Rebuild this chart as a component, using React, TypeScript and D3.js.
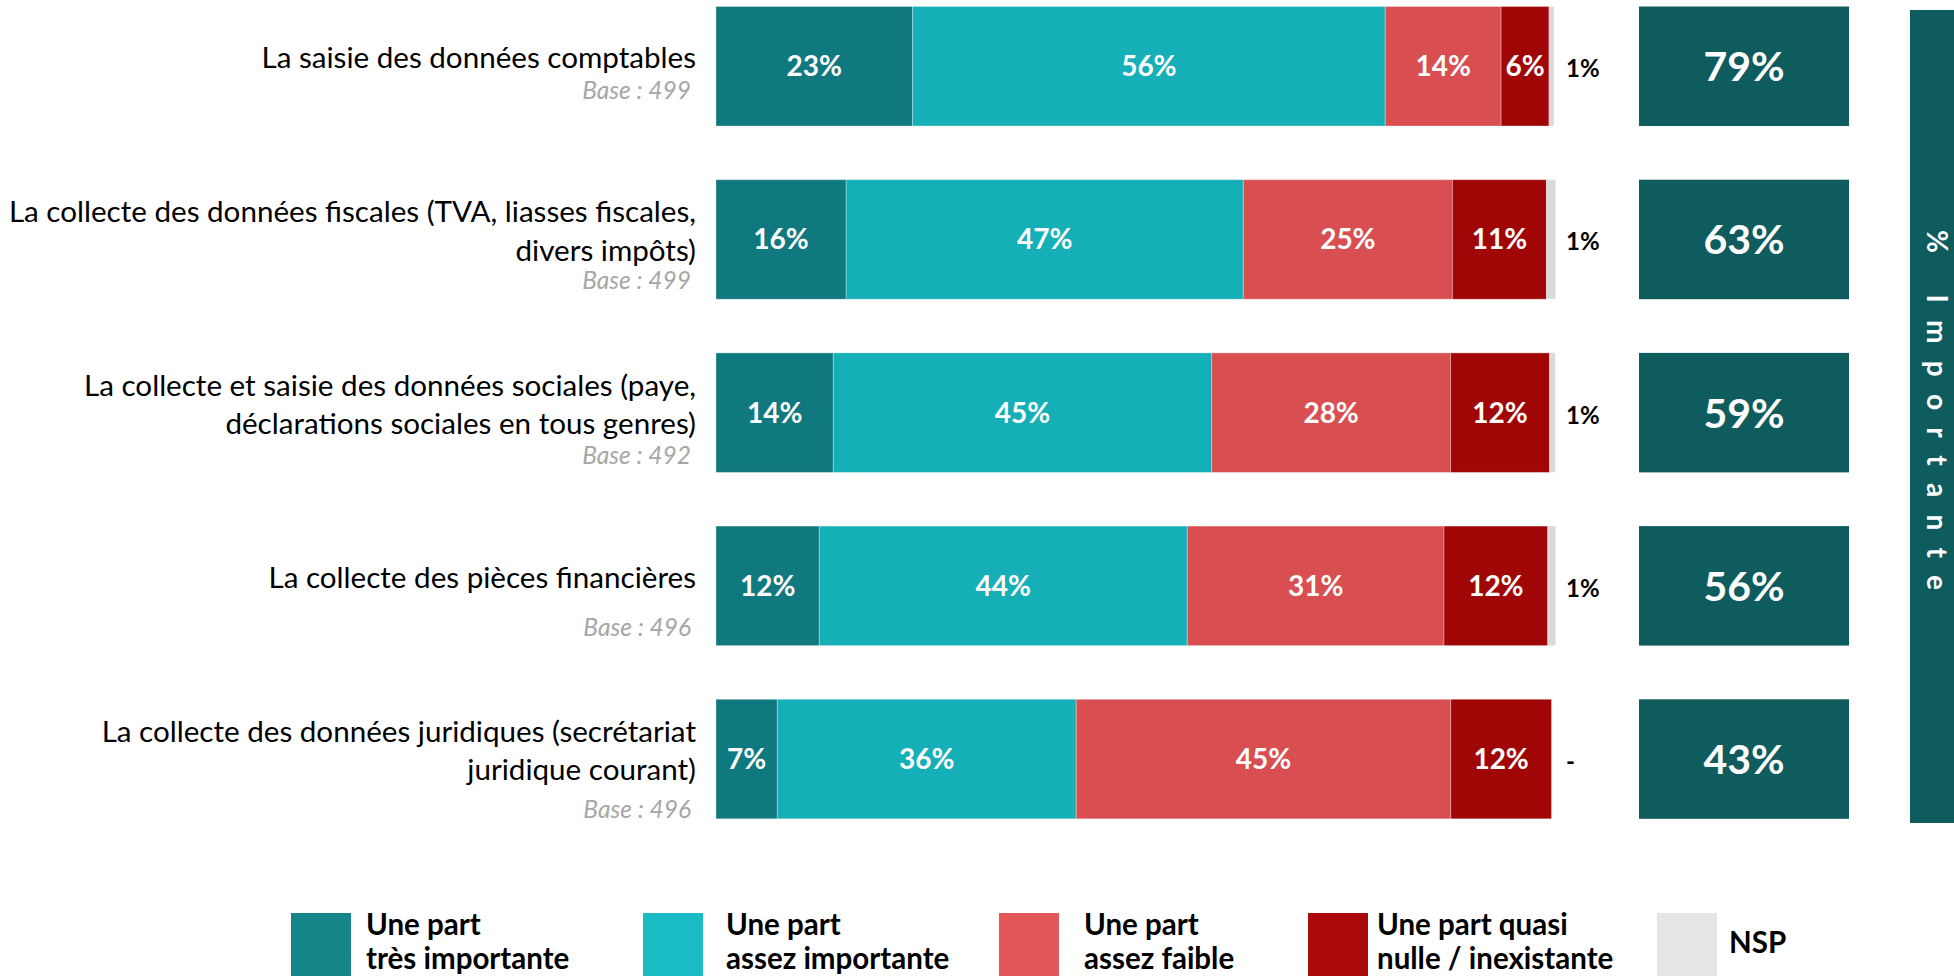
import React from "react";
import * as d3 from "d3";

// ---------- DATA ----------
const categories: string[][] = [
  ["La saisie des données comptables"],
  ["La collecte des données fiscales (TVA, liasses fiscales,", "divers impôts)"],
  ["La collecte et saisie des données sociales (paye,", "déclarations sociales en tous genres)"],
  ["La collecte des pièces financières"],
  ["La collecte des données juridiques (secrétariat", "juridique courant)"],
];
const bases = [499, 499, 492, 496, 496];

const seriesKeys = ["tres", "assez", "faible", "nulle", "nsp"];
const legendLabels: string[][] = [
  ["Une part", "très importante"],
  ["Une part", "assez importante"],
  ["Une part", "assez faible"],
  ["Une part quasi", "nulle / inexistante"],
  ["NSP"],
];
const tresImportante = [23.4, 15.5, 13.97, 12.3, 7.3];
const assezImportante = [56.3, 47.3, 45.06, 43.83, 35.6];
const assezFaible = [13.8, 24.9, 28.45, 30.57, 44.6];
const quasiNulle = [5.7, 11.2, 11.79, 12.35, 12.0];
const nspValues = [0.6, 1.1, 0.68, 0.95, 0];
const importante = [79, 63, 59, 56, 43];
const sideTitle = "% Importante";

// ---------- STYLE / LAYOUT ----------
const W = 1954;
const H = 976;
const barColors = ["#10797F", "#14AFB7", "#D84E51", "#A00606", "#DADADA"];
const legendColors = ["#168589", "#19BCC4", "#E35759", "#AC0A0A", "#E5E5E5"];
const boxColor = "#0E5C5E";
const FONT = "Lato, 'Open Sans', 'Noto Sans', sans-serif";
const baseGap = [31, 28, 30, 48, 38];
const legendSquareX = [291, 643, 999, 1308, 1657];
const legendTextX = [366, 726, 1084, 1377, 1729];

export default function App() {
  const table = categories.map((_, i) => ({
    tres: tresImportante[i],
    assez: assezImportante[i],
    faible: assezFaible[i],
    nulle: quasiNulle[i],
    nsp: nspValues[i],
  }));
  const stacked = d3.stack<any>().keys(seriesKeys)(table);

  const x = d3.scaleLinear().domain([0, 100]).range([716, 1555.7]);
  const y = d3
    .scaleBand<number>()
    .domain(d3.range(categories.length))
    .range([-20.35, 845.65])
    .paddingInner(0.31)
    .paddingOuter(0.155);
  const bw = y.bandwidth();

  const boxX0 = 1639;
  const boxX1 = 1849;

  return (
    <svg
      width={W}
      height={H}
      style={{ position: "absolute", left: 0, top: 0, display: "block", background: "#fff" }}
      fontFamily={FONT}
    >
      {/* category labels */}
      {categories.map((lines, i) => {
        const c = (y(i) as number) + bw / 2;
        const first = c + 2 - (lines.length - 1) * 19.15;
        const last = first + (lines.length - 1) * 38.3;
        return (
          <g key={"lab" + i}>
            {lines.map((ln, k) => (
              <text
                key={k}
                x={696}
                y={first + k * 38.3}
                textAnchor="end"
                fontSize={29.6}
                fill="#000"
              >
                {ln}
              </text>
            ))}
            <text
              x={691}
              y={last + baseGap[i]}
              textAnchor="end"
              fontSize={24.5}
              fontStyle="italic"
              fill="#A6A6A6"
            >
              {`Base : ${bases[i]}`}
            </text>
          </g>
        );
      })}

      {/* stacked bars */}
      {stacked.map((s, si) => (
        <g key={"s" + si}>
          {s.map((d, i) => {
            const x0 = x(d[0]);
            const x1 = x(d[1]);
            if (x1 - x0 <= 0) return null;
            return (
              <rect
                key={i}
                x={x0}
                y={y(i)}
                width={x1 - x0}
                height={bw}
                fill={barColors[si]}
                stroke="#ffffff"
                strokeOpacity={0.3}
                strokeWidth={1}
              />
            );
          })}
        </g>
      ))}

      {/* segment labels */}
      {stacked.slice(0, 4).map((s, si) => (
        <g key={"l" + si}>
          {s.map((d, i) => {
            const c = (y(i) as number) + bw / 2;
            return (
              <text
                key={i}
                x={(x(d[0]) + x(d[1])) / 2}
                y={c + 10}
                textAnchor="middle"
                fontSize={28}
                fontWeight={700}
                fill="#fff"
              >
                {`${Math.round(d[1] - d[0])}%`}
              </text>
            );
          })}
        </g>
      ))}

      {/* NSP labels */}
      {nspValues.map((v, i) => {
        const c = (y(i) as number) + bw / 2;
        return (
          <text key={"n" + i} x={1566} y={c + 11} fontSize={24} fontWeight={700} fill="#000">
            {v > 0 ? `${Math.round(v)}%` : "-"}
          </text>
        );
      })}

      {/* importante boxes */}
      {importante.map((v, i) => {
        const c = (y(i) as number) + bw / 2;
        return (
          <g key={"b" + i}>
            <rect x={boxX0} y={y(i)} width={boxX1 - boxX0} height={bw} fill={boxColor} />
            <text
              x={(boxX0 + boxX1) / 2}
              y={c + 15}
              textAnchor="middle"
              fontSize={41}
              fontWeight={700}
              fill="#fff"
            >
              {`${v}%`}
            </text>
          </g>
        );
      })}

      {/* side title */}
      <rect x={1910} y={10} width={W - 1910} height={813} fill={boxColor} />
      <text
        transform={`translate(1927, 410) rotate(90)`}
        textAnchor="middle"
        fontSize={28}
        fontWeight={700}
        fill="#fff"
        textLength={360}
        lengthAdjust="spacing"
      >
        {sideTitle}
      </text>

      {/* legend */}
      {legendLabels.map((lines, i) => (
        <g key={"lg" + i}>
          <rect x={legendSquareX[i]} y={913} width={60} height={70} fill={legendColors[i]} />
          {lines.length === 1 ? (
            <text x={legendTextX[i]} y={953} fontSize={29.5} fontWeight={700} fill="#000">
              {lines[0]}
            </text>
          ) : (
            lines.map((ln, k) => (
              <text
                key={k}
                x={legendTextX[i]}
                y={935 + k * 33.5}
                fontSize={29.5}
                fontWeight={700}
                fill="#000"
              >
                {ln}
              </text>
            ))
          )}
        </g>
      ))}
    </svg>
  );
}
